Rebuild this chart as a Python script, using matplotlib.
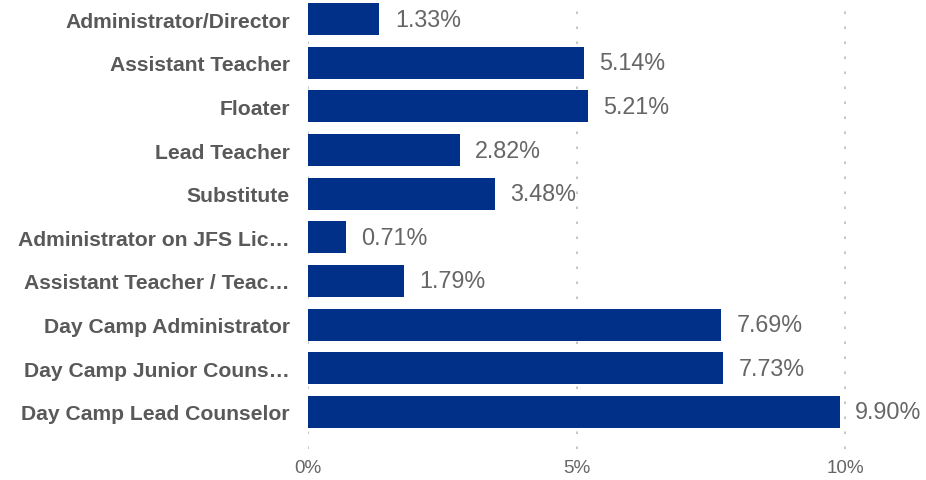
import matplotlib.pyplot as plt

categories = [
    'Administrator/Director',
    'Assistant Teacher',
    'Floater',
    'Lead Teacher',
    'Substitute',
    'Administrator on JFS Lic\u2026',
    'Assistant Teacher / Teac\u2026',
    'Day Camp Administrator',
    'Day Camp Junior Couns\u2026',
    'Day Camp Lead Counselor',
]
values = [1.33, 5.14, 5.21, 2.82, 3.48, 0.71, 1.79, 7.69, 7.73, 9.90]
xticks = [0, 5, 10]
xtick_labels = ['0%', '5%', '10%']

plt.rcParams['font.family'] = ['Liberation Sans', 'DejaVu Sans']

fig = plt.figure(figsize=(9.26, 4.81), dpi=100)
ax = fig.add_axes([308 / 926, 1 - 450 / 481, 1 - 308 / 926, 450 / 481])

ypos = list(range(len(categories)))
ax.barh(ypos, values, height=0.73, color='#003087', zorder=2)

for y, v in zip(ypos, values):
    ax.annotate('%.2f%%' % v, (v, y), xytext=(11, 0), textcoords='offset points',
                va='center', ha='left', fontsize=16.8, color='#666666')

ax.set_xlim(0, 11.5)
ax.set_ylim(9.85, -0.46)
ax.set_yticks(ypos)
ax.set_yticklabels(categories, fontsize=15.2, fontweight='bold', color='#595959')
ax.set_xticks(xticks)
ax.set_xticklabels(xtick_labels, fontsize=13.6, color='#666666')
ax.tick_params(axis='y', length=0, pad=13)
ax.tick_params(axis='x', length=0, pad=7)

ax.grid(axis='x', color='#bbbbbb', linestyle=(0, (1.5, 7.5)), linewidth=1.2, zorder=0)
for s in ax.spines.values():
    s.set_visible(False)

fig.savefig('out.png', dpi=100)
